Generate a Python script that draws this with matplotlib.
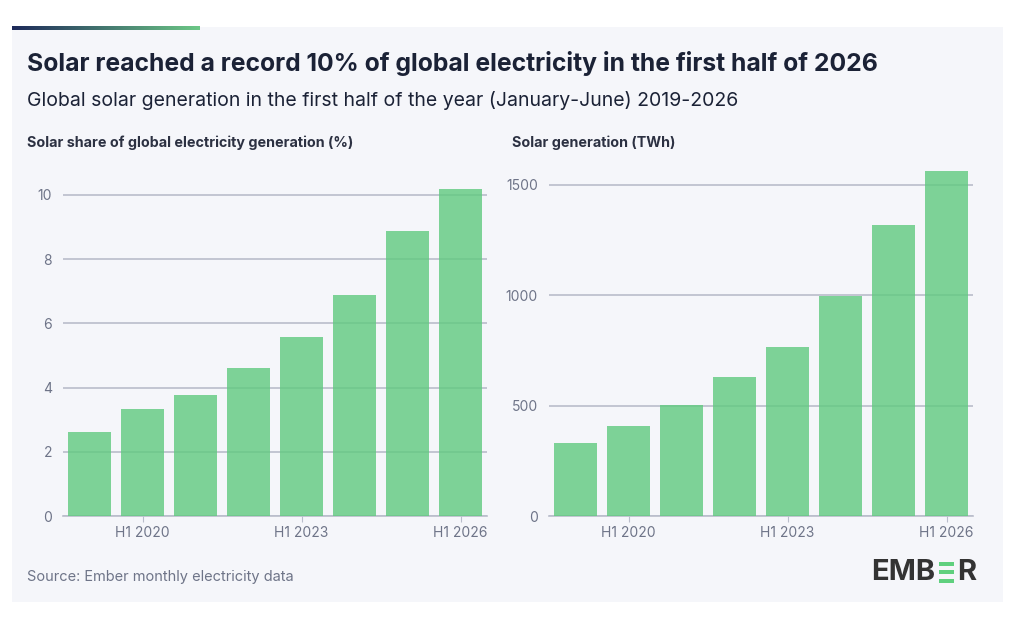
import matplotlib

matplotlib.use("Agg")
import matplotlib.pyplot as plt
import numpy as np
from matplotlib.colors import LinearSegmentedColormap
from matplotlib.patches import Rectangle

# data
PERIODS = ["H1 2019", "H1 2020", "H1 2021", "H1 2022", "H1 2023", "H1 2024", "H1 2025", "H1 2026"]
SHARE_PCT = [2.63, 3.33, 3.78, 4.61, 5.58, 6.87, 8.87, 10.18]
GEN_TWH = [331, 406, 501, 630, 766, 997, 1319, 1562]
SHOWN_TICKS = ["H1 2020", "H1 2023", "H1 2026"]

TITLE = "Solar reached a record 10% of global electricity in the first half of 2026"
SUBTITLE = "Global solar generation in the first half of the year (January-June) 2019-2026"
SOURCE = "Source: Ember monthly electricity data"

W, H = 1024, 622
PANEL = "#f5f6fa"
NAVY = "#1b2236"
GREY = "#6e7488"
GRID = "#b9bdcb"
BAR = "#5fca7e"

plt.rcParams["font.family"] = ["Inter", "DejaVu Sans"]


def px(x0, y0, x1, y1):
    """pixel box (top-left origin) -> figure rect"""
    return [x0 / W, 1 - y1 / H, (x1 - x0) / W, (y1 - y0) / H]


def bar_panel(fig, rect, values, yticks, ylim, label, lx):
    ax = fig.add_axes(rect)
    ax.set_facecolor("none")
    x = np.arange(len(PERIODS))
    ax.bar(x, values, 0.8, color=BAR, alpha=0.8, zorder=3)
    ax.set_xlim(-0.5, 7.5)
    ax.set_ylim(0, ylim)
    ax.set_yticks(yticks, [str(t) for t in yticks])
    pos = [PERIODS.index(p) for p in SHOWN_TICKS]
    ax.set_xticks(pos, SHOWN_TICKS)
    ax.grid(axis="y", color=GRID, lw=1.2, zorder=1)
    for s in ["top", "right", "left"]:
        ax.spines[s].set_visible(False)
    ax.spines["bottom"].set_color(GRID)
    ax.spines["bottom"].set_linewidth(1.2)
    ax.tick_params(axis="y", length=0, pad=8, labelsize=10, labelcolor=GREY)
    ax.tick_params(axis="x", length=4, color=GRID, pad=3, labelsize=10, labelcolor=GREY)
    fig.text(lx / W, 1 - 143 / H, label, fontsize=10.3, fontweight="bold",
             color="#2c3142", va="center")
    return ax


fig = plt.figure(figsize=(W / 100, H / 100), dpi=100)
fig.patch.set_facecolor("white")

# light card behind everything
bg = fig.add_axes([0, 0, 1, 1])
bg.set_xlim(0, W)
bg.set_ylim(H, 0)
bg.axis("off")
bg.add_patch(Rectangle((12, 27), 991, 575, color=PANEL, lw=0, zorder=0))
grad = LinearSegmentedColormap.from_list("top", ["#1e2a5a", "#6cc786"])
bg.imshow(np.linspace(0, 1, 200)[None, :], cmap=grad, aspect="auto",
          extent=(12, 200, 30.5, 26.5), zorder=2)
bg.set_xlim(0, W)
bg.set_ylim(H, 0)

fig.text(27 / W, 1 - 63 / H, TITLE, fontsize=17.8, fontweight="bold", color=NAVY, va="center")
fig.text(27 / W, 1 - 100 / H, SUBTITLE, fontsize=14, color=NAVY, va="center")

ylim_l = 10.8
bar_panel(fig, px(63, 516 - ylim_l * 32.1, 487, 516), SHARE_PCT, [0, 2, 4, 6, 8, 10],
          ylim_l, "Solar share of global electricity generation (%)", 27)
ylim_r = 1600
bar_panel(fig, px(549, 516 - ylim_r * 331 / 1500, 973, 516), GEN_TWH, [0, 500, 1000, 1500],
          ylim_r, "Solar generation (TWh)", 512)

fig.text(27 / W, 1 - 577 / H, SOURCE, fontsize=10.5, color=GREY, va="center")

# EMBER wordmark, middle E as three green strokes
logo_y = 1 - 572 / H
fig.text(935 / W, logo_y, "EMB", fontsize=21, fontweight="bold", color="#333333",
         ha="right", va="center")
fig.text(957 / W, logo_y, "R", fontsize=21, fontweight="bold", color="#333333",
         ha="left", va="center")
for yy in (563.5, 572, 580.5):
    bg.add_patch(Rectangle((939, yy - 2), 15, 4, color="#5fd07e", lw=0))

fig.savefig("out.png", dpi=100, facecolor="white")
